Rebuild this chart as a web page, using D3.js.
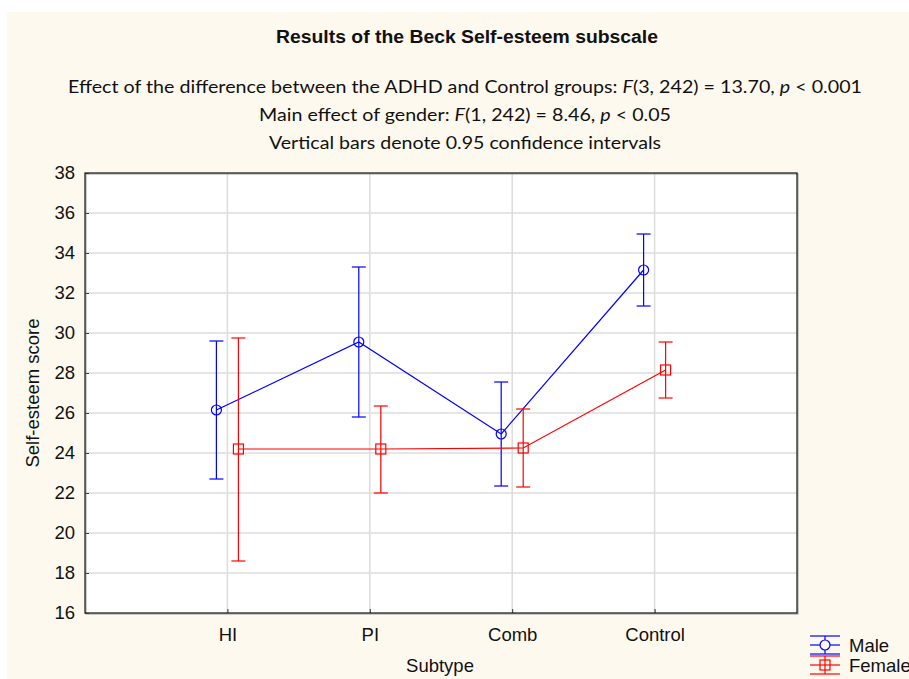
<!DOCTYPE html>
<html><head><meta charset="utf-8">
<script src="https://cdn.jsdelivr.net/npm/d3@7"></script>
<style>body{margin:0;background:#fff}svg{display:block}</style>
</head><body>
<svg id="c" width="909" height="679"></svg>
<script>
const categories = ["HI", "PI", "Comb", "Control"];
const maleMean  = [26.15, 29.55, 24.95, 33.15];
const maleLow   = [22.7, 25.8, 22.35, 31.35];
const maleHigh  = [29.6, 33.3, 27.55, 34.95];
const femaleMean = [24.2, 24.2, 24.25, 28.15];
const femaleLow  = [18.6, 22.0, 22.3, 26.75];
const femaleHigh = [29.75, 26.35, 26.2, 29.55];
const yTicks = [16, 18, 20, 22, 24, 26, 28, 30, 32, 34, 36, 38];
const seriesNames = ["Male", "Female"];

const svg = d3.select("#c");
svg.append("rect").attr("x", 7).attr("y", 12).attr("width", 902).attr("height", 667).attr("fill", "#fef9ee");

const L = 85, R = 797, T = 173, B = 613;
const x = d3.scalePoint().domain(categories).range([L, R]).padding(1);
const y = d3.scaleLinear().domain([16, 38]).range([B, T]);
const sans = "Liberation Sans, Arial, sans-serif";
const FS = 18.5;

svg.append("rect").attr("x", L).attr("y", T).attr("width", R - L).attr("height", B - T).attr("fill", "#fff");

// grid
const g = svg.append("g");
g.selectAll(".hg").data(yTicks.slice(1, -1)).enter().append("line")
  .attr("x1", L).attr("x2", R).attr("y1", d => y(d)).attr("y2", d => y(d))
  .attr("stroke", "#dcdcdc").attr("stroke-width", 1.5);
g.selectAll(".vg").data(categories).enter().append("line")
  .attr("x1", d => x(d)).attr("x2", d => x(d)).attr("y1", T).attr("y2", B)
  .attr("stroke", "#dcdcdc").attr("stroke-width", 1.5);

// axes
const yAxis = d3.axisLeft(y).tickValues(yTicks).tickSizeInner(-4).tickSizeOuter(0).tickPadding(10);
const ya = svg.append("g").attr("transform", `translate(${L},0)`).call(yAxis);
ya.select(".domain").remove();
ya.selectAll("text").attr("font-family", sans).attr("font-size", FS).attr("fill", "#111");
ya.selectAll("line").attr("stroke", "#333");

const xAxis = d3.axisBottom(x).tickSizeInner(-4).tickSizeOuter(0).tickPadding(15);
const xa = svg.append("g").attr("transform", `translate(0,${B})`).call(xAxis);
xa.select(".domain").remove();
xa.selectAll("text").attr("font-family", sans).attr("font-size", FS).attr("fill", "#111");
xa.selectAll("line").attr("stroke", "#333");

// frame
svg.append("rect").attr("x", L + 1).attr("y", T + 1).attr("width", R - L).attr("height", B - T)
  .attr("fill", "none").attr("stroke", "#999").attr("stroke-width", 1);
svg.append("rect").attr("x", L).attr("y", T).attr("width", R - L).attr("height", B - T)
  .attr("fill", "none").attr("stroke", "#111").attr("stroke-width", 1.2);

// series
const series = [
  {name: seriesNames[0], mean: maleMean, lo: maleLow, hi: maleHigh, color: "#0000ff", off: -11, shape: "circle"},
  {name: seriesNames[1], mean: femaleMean, lo: femaleLow, hi: femaleHigh, color: "#ff0000", off: 11, shape: "square"}
];
series.forEach(s => {
  const pts = categories.map((c, i) => ({c, m: s.mean[i], lo: s.lo[i], hi: s.hi[i]}));
  const sg = svg.append("g");
  sg.append("path").datum(pts)
    .attr("d", d3.line().x(d => x(d.c) + s.off).y(d => y(d.m)))
    .attr("fill", "none").attr("stroke", s.color).attr("stroke-width", 1.2);
  pts.forEach(d => {
    const cx = x(d.c) + s.off;
    sg.append("line").attr("x1", cx).attr("x2", cx).attr("y1", y(d.lo)).attr("y2", y(d.hi)).attr("stroke", s.color).attr("stroke-width", 1.2);
    [d.lo, d.hi].forEach(v => sg.append("line").attr("x1", cx - 7).attr("x2", cx + 7).attr("y1", y(v)).attr("y2", y(v)).attr("stroke", s.color).attr("stroke-width", 1.2));
    if (s.shape === "circle") {
      sg.append("circle").attr("cx", cx).attr("cy", y(d.m)).attr("r", 5).attr("fill", "none").attr("stroke", s.color).attr("stroke-width", 1.2);
    } else {
      sg.append("rect").attr("x", cx - 5).attr("y", y(d.m) - 5).attr("width", 10).attr("height", 10).attr("fill", "none").attr("stroke", s.color).attr("stroke-width", 1.2);
    }
  });
});

// titles
svg.append("text").attr("x", 467).attr("y", 43).attr("text-anchor", "middle").attr("font-family", sans)
  .attr("font-size", 18).attr("font-weight", "bold").attr("fill", "#111")
  .attr("textLength", 382).attr("lengthAdjust", "spacingAndGlyphs")
  .text("Results of the Beck Self-esteem subscale");

const sub = "Lato, 'Open Sans', sans-serif";
function richLine(yy, parts, len) {
  const t = svg.append("text").attr("x", 465).attr("y", yy).attr("text-anchor", "middle")
    .attr("font-family", sub).attr("font-size", 17).attr("fill", "#111");
  parts.forEach(p => t.append("tspan").attr("font-style", p[1] ? "italic" : null).text(p[0]));
  if (len) t.attr("textLength", len).attr("lengthAdjust", "spacingAndGlyphs");
}
richLine(93, [["Effect of the difference between the ADHD and Control groups: ", false], ["F", true], ["(3, 242) = 13.70, ", false], ["p", true], [" < 0.001", false]], 794);
richLine(121, [["Main effect of gender: ", false], ["F", true], ["(1, 242) = 8.46, ", false], ["p", true], [" < 0.05", false]], 412);
richLine(149, [["Vertical bars denote 0.95 confidence intervals", false]], 392);

// axis titles
svg.append("text").attr("transform", "translate(39,393) rotate(-90)").attr("text-anchor", "middle")
  .attr("font-family", sans).attr("font-size", FS).attr("fill", "#111").text("Self-esteem score");
svg.append("text").attr("x", 440).attr("y", 672).attr("text-anchor", "middle")
  .attr("font-family", sans).attr("font-size", FS).attr("fill", "#111").text("Subtype");

// legend
const lg = svg.append("g");
series.forEach((s, i) => {
  const cy = 645 + i * 20;
  const x0 = 810, x1 = 840, xc = 825;
  [cy - 9, cy, cy + 9].forEach(yy => lg.append("line").attr("x1", x0).attr("x2", x1).attr("y1", yy).attr("y2", yy).attr("stroke", s.color).attr("stroke-width", 1.2));
  lg.append("line").attr("x1", xc).attr("x2", xc).attr("y1", cy - 9).attr("y2", cy + 9).attr("stroke", s.color).attr("stroke-width", 1.2);
  if (s.shape === "circle") lg.append("circle").attr("cx", xc).attr("cy", cy).attr("r", 5).attr("fill", "#fef9ee").attr("stroke", s.color).attr("stroke-width", 1.2);
  else lg.append("rect").attr("x", xc - 5).attr("y", cy - 5).attr("width", 10).attr("height", 10).attr("fill", "none").attr("stroke", s.color).attr("stroke-width", 1.2);
  lg.append("text").attr("x", 849).attr("y", cy + 7).attr("font-family", sans).attr("font-size", FS).attr("fill", "#111").text(s.name);
});
</script>
</body></html>
